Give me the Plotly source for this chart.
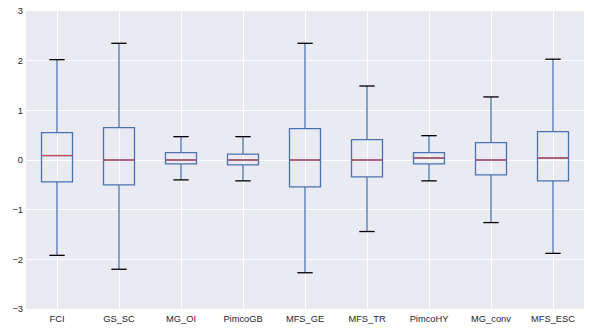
import plotly.graph_objects as go

categories = ["FCI", "GS_SC", "MG_OI", "PimcoGB", "MFS_GE", "MFS_TR", "PimcoHY", "MG_conv", "MFS_ESC"]
upper = [2.02, 2.35, 0.47, 0.47, 2.35, 1.49, 0.49, 1.27, 2.03]
q3 = [0.55, 0.65, 0.15, 0.12, 0.63, 0.41, 0.15, 0.35, 0.57]
median = [0.09, 0.0, 0.0, 0.0, 0.0, 0.0, 0.04, 0.0, 0.04]
q1 = [-0.44, -0.50, -0.08, -0.10, -0.54, -0.34, -0.08, -0.30, -0.42]
lower = [-1.92, -2.20, -0.40, -0.42, -2.27, -1.44, -0.42, -1.26, -1.88]
y_ticks = [-3, -2, -1, 0, 1, 2, 3]

BLUE = "#4C72B0"
RED = "#C44E52"

fig = go.Figure()
fig.add_trace(go.Box(
    x=categories, q1=q1, median=median, q3=q3,
    lowerfence=lower, upperfence=upper,
    width=0.5, whiskerwidth=0,
    line=dict(color=BLUE, width=1.3),
    fillcolor="rgba(0,0,0,0)",
    boxpoints=False, hoverinfo="skip", showlegend=False,
))
# black whisker caps
fig.add_trace(go.Scatter(
    x=categories + categories, y=upper + lower, mode="markers",
    marker=dict(symbol="line-ew", size=11, line=dict(color="black", width=1.3)),
    hoverinfo="skip", showlegend=False,
))
# red median lines
fig.add_trace(go.Scatter(
    x=categories, y=median, mode="markers",
    marker=dict(symbol="line-ew", size=21.5, line=dict(color=RED, width=1.3)),
    hoverinfo="skip", showlegend=False,
))

fig.update_layout(
    width=590, height=332,
    margin=dict(l=26, r=6, t=9, b=23),
    paper_bgcolor="white", plot_bgcolor="#EAEAF2",
    font=dict(family="Liberation Sans, Arial, sans-serif", size=9.3, color="#262626"),
    xaxis=dict(type="category", categoryorder="array", categoryarray=categories,
               range=[-0.5, len(categories) - 0.5], showgrid=True, gridcolor="white",
               gridwidth=1, zeroline=False, ticks="", showline=False, ticklabelstandoff=3),
    yaxis=dict(range=[-3, 3], tickvals=y_ticks, showgrid=True, gridcolor="white",
               gridwidth=1, zeroline=False, ticks="", showline=False, ticklabelstandoff=2),
)
fig.write_html("out.html")
